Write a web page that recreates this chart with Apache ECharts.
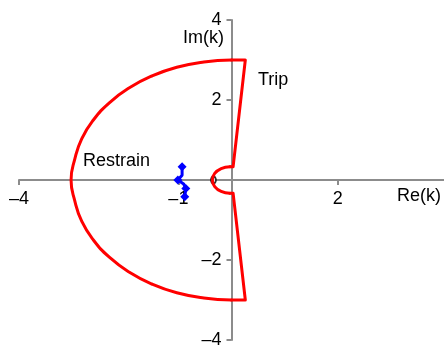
<!DOCTYPE html>
<html>
<head>
<meta charset="utf-8">
<script src="https://cdn.jsdelivr.net/npm/echarts@6/dist/echarts.min.js"></script>
<style>
  html, body { margin: 0; padding: 0; background: #fff; }
  #chart { width: 444px; height: 346px; }
</style>
</head>
<body>
<div id="chart"></div>
<script>
// Tick settings for the impedance plane
const xTicks = { min: -4, max: 4, interval: 3 };
const yTicks = { min: -4, max: 4, interval: 2 };

// Relay characteristic: outer arc (Re, Im)
const outerArcRe = [0, -0.52, -1.03, -1.5, -1.93, -2.3, -2.6, -2.82, -2.95, -3.02,
  -2.95, -2.82, -2.6, -2.3, -1.93, -1.5, -1.03, -0.52, 0];
const outerArcIm = [3.0, 2.95, 2.82, 2.6, 2.3, 1.93, 1.5, 1.03, 0.52, 0,
  -0.52, -1.03, -1.5, -1.93, -2.3, -2.6, -2.82, -2.95, -3.0];

// Relay characteristic: inner arc around the origin
const innerArcRe = [-0.03, -0.195, -0.316, -0.36, -0.316, -0.195, -0.03];
const innerArcIm = [0.33, 0.286, 0.165, 0, -0.165, -0.286, -0.33];

// Relay characteristic: straight reach lines in the first and fourth quadrants
const upperEdgeRe = [0, 0.26, 0.03, -0.03];
const upperEdgeIm = [3.0, 3.0, 0.33, 0.33];
const lowerEdgeRe = [0, 0.26, 0.03, -0.03];
const lowerEdgeIm = [-3.0, -3.0, -0.33, -0.33];

// Measured fault trajectory
const faultRe = [-0.93, -0.93, -1.01, -0.9, -0.86, -0.88];
const faultIm = [0.33, 0.12, 0.0, -0.1, -0.21, -0.42];
const faultMarked = [true, false, true, false, true, true];

// Reach point on the real axis
const reachPoint = [[-0.34, 0]];

const pairs = (re, im) => re.map((r, i) => [r, im[i]]);
const fault = faultRe.map((re, i) => ({
  value: [re, faultIm[i]],
  symbolSize: faultMarked[i] ? 9 : 0
}));

// Plot area in pixels; axes are shifted so they cross at the origin
const W = 444, H = 346;
const plot = { left: 19, right: 0, top: 20, bottom: 6 };
const plotW = W - plot.left - plot.right;
const plotH = H - plot.top - plot.bottom;
const xZeroOffset = -plotW * (0 - xTicks.min) / (xTicks.max - xTicks.min);
const yZeroOffset = -plotH * (0 - yTicks.min) / (yTicks.max - yTicks.min);

const axisGray = '#8c8c8c';
const red = '#ff0000';
const font = 'Liberation Sans, Arial, sans-serif';
const dash = v => (v < 0 ? '\u2013' + Math.abs(v) : String(v));

const redLine = (data, smooth) => ({
  type: 'line',
  data,
  smooth,
  showSymbol: false,
  lineStyle: { color: red, width: 3, cap: 'round', join: 'round' },
  z: 2
});

const chart = echarts.init(document.getElementById('chart'), null, { renderer: 'canvas' });
chart.setOption({
  animation: false,
  grid: Object.assign({ containLabel: false, outerBoundsMode: 'none' }, plot),
  xAxis: {
    type: 'value',
    position: 'bottom',
    offset: yZeroOffset,
    min: xTicks.min, max: xTicks.max, interval: xTicks.interval,
    axisLine: { onZero: false, lineStyle: { color: axisGray, width: 2 } },
    axisTick: { show: true, length: 5, lineStyle: { color: axisGray, width: 2 } },
    axisLabel: {
      color: '#000', fontSize: 18, fontFamily: font, margin: 10,
      showMaxLabel: false,
      formatter: v => (v === 0 ? '' : dash(v))
    },
    splitLine: { show: false }
  },
  yAxis: {
    type: 'value',
    position: 'left',
    offset: xZeroOffset,
    min: yTicks.min, max: yTicks.max, interval: yTicks.interval,
    axisLine: { onZero: false, lineStyle: { color: axisGray, width: 2 } },
    axisTick: { show: true, length: 5, lineStyle: { color: axisGray, width: 2 } },
    axisLabel: {
      color: '#000', fontSize: 18, fontFamily: font, margin: 10,
      formatter: v => (v === 0 ? '' : dash(v))
    },
    splitLine: { show: false }
  },
  graphic: [
    { type: 'text', left: 183, top: 29, style: { text: 'Im(k)', fontSize: 18, fontFamily: font, fill: '#000' } },
    { type: 'text', left: 397, top: 187, style: { text: 'Re(k)', fontSize: 18, fontFamily: font, fill: '#000' } },
    { type: 'text', left: 258, top: 71, style: { text: 'Trip', fontSize: 18, fontFamily: font, fill: '#000' } },
    { type: 'text', left: 83, top: 152, style: { text: 'Restrain', fontSize: 18, fontFamily: font, fill: '#000' } }
  ],
  series: [
    {
      type: 'scatter',
      data: reachPoint,
      symbol: 'emptyCircle',
      symbolSize: [5, 7],
      itemStyle: { color: '#000', borderColor: '#000', borderWidth: 1.5 },
      z: 1
    },
    redLine(pairs(outerArcRe, outerArcIm), 0.5),
    redLine(pairs(innerArcRe, innerArcIm), 0.5),
    redLine(pairs(upperEdgeRe, upperEdgeIm), false),
    redLine(pairs(lowerEdgeRe, lowerEdgeIm), false),
    {
      type: 'line',
      data: fault,
      symbol: 'diamond',
      showAllSymbol: true,
      lineStyle: { color: '#0000ff', width: 3 },
      itemStyle: { color: '#0000ff' },
      z: 3
    }
  ]
});
</script>
</body>
</html>
